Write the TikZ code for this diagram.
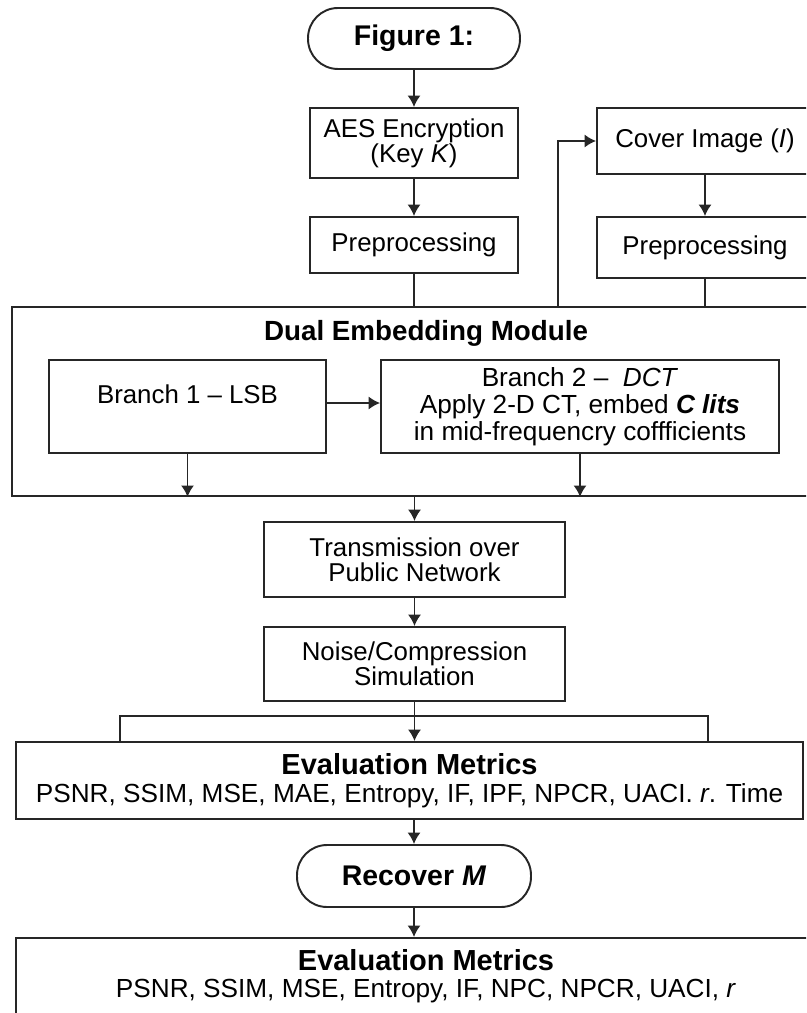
\documentclass[tikz,border=0pt]{standalone}
\usepackage{fontspec}
\setmainfont{Liberation Sans}
\usetikzlibrary{arrows.meta,positioning,calc}

\tikzset{
  box/.style={draw=black!85, line width=1.1pt, align=center, inner sep=2pt,
    font=\fontsize{14.7}{14.2}\selectfont},
  term/.style={box, rounded corners=.6cm, font=\bfseries\fontsize{16.2}{18}\selectfont},
  evalbox/.style={box, font=\fontsize{14.9}{15.6}\selectfont},
  link/.style={draw=black!85, line width=1.1pt},
  arr/.style={link, -{Latex[length=6.5pt,width=7.5pt]}}
}
\newcommand{\evaltitle}{{\bfseries\fontsize{16.5}{15.6}\selectfont Evaluation Metrics}}

\begin{document}
\begin{tikzpicture}[x=.02cm,y=-.02cm]
	\useasboundingbox (0,0) rectangle (806,1013);
	\clip (0,0) rectangle (806,1013);
	
	% message side and cover side
	\node[term, minimum width=4.24cm, minimum height=1.22cm] (fig) at (414,38.5) {Figure 1:};
	\node[box, minimum width=4.16cm, minimum height=1.4cm] (aes) at (414,143) {AES Encryption\\(Key \textit{K})};
	\node[box, minimum width=4.16cm, minimum height=1.12cm] (pre1) at (414,245) {Preprocessing};
	\node[box, minimum width=4.32cm, minimum height=1.32cm] (cover) at (705,141) {Cover Image (\textit{I})};
	\node[box, minimum width=4.32cm, minimum height=1.22cm] (pre2) at (705,247.5) {Preprocessing};
	
	% dual embedding module
	\node[box, minimum width=16.56cm, minimum height=3.78cm] (module) at (426,401.5) {};
	\node[font=\bfseries\fontsize{15.8}{18}\selectfont] (modtitle) at (426,333) {Dual Embedding Module};
	\node[box, minimum width=5.54cm, minimum height=1.86cm, text depth=.5cm] (br1) at (187.5,406.5) {Branch 1 -- LSB};
	\node[box, minimum width=7.96cm, minimum height=1.86cm, font=\fontsize{14.9}{15.4}\selectfont] (br2) at (580,406.5)
		{Branch 2 --\ \ \textit{DCT}\\Apply 2-D CT, embed \textbf{\textit{C lits}}\\in mid-frequencry coffficients};
	
	% channel and evaluation
	\node[box, minimum width=6.02cm, minimum height=1.5cm] (trans) at (414.5,559.5) {Transmission over\\Public Network};
	\node[box, minimum width=6.02cm, minimum height=1.48cm] (noise) at (414.5,664) {Noise/Compression\\Simulation};
	\node[evalbox, minimum width=15.74cm, minimum height=1.54cm] (eval1) at (409.5,780.5)
		{\evaltitle\\PSNR, SSIM, MSE, MAE, Entropy, IF, IPF, NPCR, UACI. \textit{r}. Time};
	\node[term, minimum width=4.68cm, minimum height=1.24cm] (rec) at (414,876) {Recover \textit{M}};
	\node[evalbox, anchor=north, minimum width=16.4cm, inner ysep=.23cm, text depth=2cm] (eval2) at (426,937)
		{\evaltitle\\PSNR, SSIM, MSE, Entropy, IF, NPC, NPCR, UACI, \textit{r}};
	
	\coordinate (tap) at (558,307);
	\coordinate (bus) at (414.5,716);
	\coordinate (busl) at (120,742);
	\coordinate (busr) at (708,742);
	
	\draw[arr] (fig) -- (aes);
	\draw[arr] (aes) -- (pre1);
	\draw[link] (pre1) -- (pre1 |- module.north);
	\draw[arr] (cover) -- (pre2);
	\draw[link] (pre2) -- (pre2 |- module.north);
	\draw[arr] (tap) |- (cover.west);
	\draw[arr] (br1.east |- 0,403) -- (br2.west |- 0,403);
	\draw[arr] (br1) -- (br1 |- module.south);
	\draw[arr] (br2) -- (br2 |- module.south);
	\draw[arr] (trans |- module.south) -- (trans);
	\draw[arr] (trans) -- (noise);
	\draw[arr] (noise) -- (noise |- eval1.north);
	\draw[link] (busl) |- (bus) -| (busr);
	\draw[arr] (rec |- eval1.south) -- (rec);
	\draw[arr] (rec) -- (rec |- eval2.north);
\end{tikzpicture}
\end{document}
